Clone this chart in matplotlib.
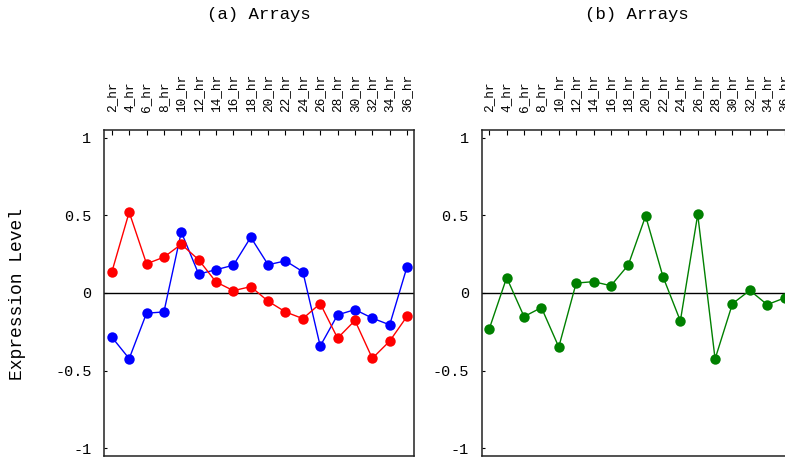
import matplotlib
matplotlib.use("Agg")
import matplotlib.pyplot as plt

plt.rcParams['font.family'] = ['Liberation Mono', 'DejaVu Sans Mono']

hours = ["2_hr", "4_hr", "6_hr", "8_hr", "10_hr", "12_hr", "14_hr", "16_hr", "18_hr",
         "20_hr", "22_hr", "24_hr", "26_hr", "28_hr", "30_hr", "32_hr", "34_hr", "36_hr"]

# panel (a)
red_vals = [0.135, 0.521, 0.188, 0.231, 0.314, 0.214, 0.071, 0.015, 0.041,
            -0.053, -0.122, -0.165, -0.068, -0.291, -0.177, -0.421, -0.310, -0.150]
blue_vals = [-0.284, -0.423, -0.130, -0.122, 0.393, 0.122, 0.150, 0.179, 0.359,
             0.182, 0.207, 0.137, -0.342, -0.141, -0.107, -0.162, -0.205, 0.169]

# panel (b)
green_vals = [-0.230, 0.099, -0.152, -0.094, -0.348, 0.064, 0.073, 0.047, 0.180,
              0.496, 0.105, -0.180, 0.506, -0.425, -0.069, 0.017, -0.075, -0.032]

yticks = [-1, -0.5, 0, 0.5, 1]
ytick_labels = ["-1", "-0.5", "0", "0.5", "1"]

W, H = 785, 458
fig = plt.figure(figsize=(W / 100, H / 100), dpi=100)


def make_axes(x0_px, x1_px, series, title):
    ax = fig.add_axes([x0_px / W, 1 - 456 / H, (x1_px - x0_px) / W, (456 - 130) / H])
    x = list(range(len(hours)))
    ax.axhline(0, color='black', lw=1.0, zorder=1)
    for vals, col in series:
        ax.plot(x, vals, color=col, lw=1.0, marker='o', markersize=7.5,
                markeredgewidth=0, zorder=3, clip_on=False)
    ax.set_xlim(-0.45, 17.4)
    ax.set_ylim(-1.05, 1.05)
    ax.set_xticks(x)
    ax.set_xticklabels(hours, rotation=90, fontsize=9.2)
    ax.tick_params(axis='x', top=True, bottom=False, labeltop=True, labelbottom=False,
                   direction='in', length=3.5, width=0.8, pad=13)
    ax.set_yticks(yticks)
    ax.set_yticklabels(ytick_labels, fontsize=11)
    ax.tick_params(axis='y', direction='in', length=2.5, width=0.8, pad=9)
    for s in ax.spines.values():
        s.set_linewidth(1.1)
        s.set_color('#222222')
    fig.text((x0_px + x1_px) / 2 / W, 1 - 15 / H, title, ha='center', va='center',
             fontsize=12.5)
    return ax


make_axes(104, 414, [(blue_vals, 'blue'), (red_vals, 'red')], "(a) Arrays")
make_axes(481.5, 791.5, [(green_vals, 'green')], "(b) Arrays")

fig.text(18 / W, 1 - 294 / H, "Expression Level", rotation=90, ha='center', va='center',
         fontsize=13)

fig.savefig("out.png", dpi=100)
